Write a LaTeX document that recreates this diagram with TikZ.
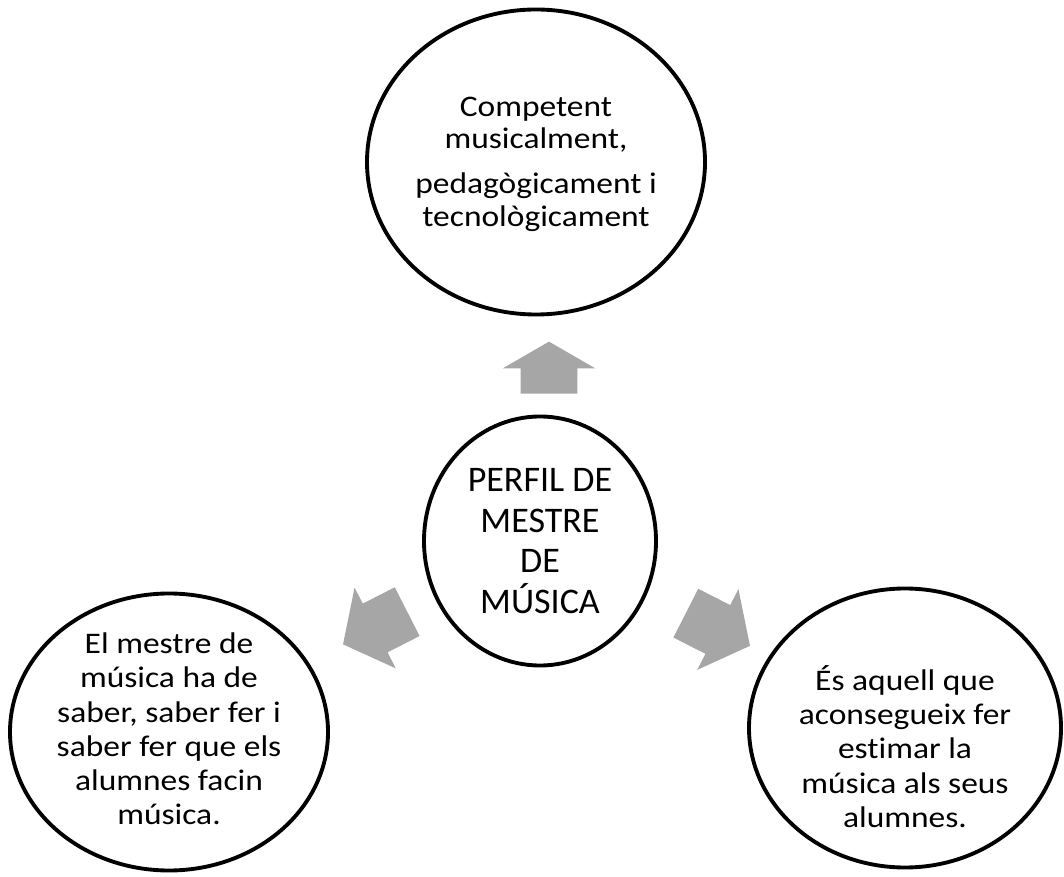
\documentclass[tikz,border=0pt]{standalone}
\usepackage{fontspec}
\setmainfont{Carlito}[Ligatures=NoCommon]
\newfontfamily\widefont{Carlito}[FakeStretch=1.12, Ligatures=NoCommon]
\usetikzlibrary{shapes.geometric,shapes.arrows}

\definecolor{arrowgray}{RGB}{166,166,166}

\begin{document}
\begin{tikzpicture}[
  ring/.style={draw=black, ellipse, line width=2.2pt, inner sep=0pt},
  ringtext/.style={align=center, inner sep=0pt, font=\widefont\fontsize{17}{19.5}\selectfont},
  hubtext/.style={align=center, inner sep=0pt, font=\fontsize{20.5}{23}\selectfont},
  blockarrow/.style={single arrow, fill=arrowgray, draw=none, inner xsep=0pt,
    anchor=tail, single arrow head extend=0.36cm}
]

  \useasboundingbox (0,0) rectangle (21.28,17.52);

  % Rings
  \node[ring, minimum width=6.76cm, minimum height=6.10cm] (top) at (10.72, 14.28) {};
  \node[ring, minimum width=4.64cm, minimum height=4.98cm] (hub) at (10.80, 6.70) {};
  \node[ring, minimum width=6.36cm, minimum height=5.54cm] (left) at (3.38, 2.88) {};
  \node[ring, minimum width=6.24cm, minimum height=5.58cm] (right) at (18.10, 2.96) {};

  % Texts inside the rings
  \node[ringtext, font=\widefont\fontsize{17}{18.5}\selectfont] (top-text) at (10.72, 14.24)
    {Competent\\musicalment,\\[7pt]pedagògicament i\\tecnològicament};
  \node[hubtext] (hub-text) at (hub) {PERFIL DE\\MESTRE\\DE\\MÚSICA};
  \node[ringtext] (left-text) at (3.38, 2.94)
    {El mestre de\\música ha de\\saber, saber fer i\\saber fer que els\\alumnes facin\\música.};
  \node[ringtext] (right-text) at (18.10, 2.59)
    {És aquell que\\aconsegueix fer\\estimar la\\música als seus\\alumnes.};

  % Block arrows out of the hub
  \node[blockarrow, minimum height=1.04cm, inner ysep=0.56cm, single arrow tip angle=120,
    rotate=90] (up-arrow) at (10.98, 9.64) {};
  \node[blockarrow, minimum height=1.44cm, inner ysep=0.54cm, single arrow tip angle=103,
    rotate=207] (left-arrow) at (8.15, 5.29) {};
  \node[blockarrow, minimum height=1.44cm, inner ysep=0.54cm, single arrow tip angle=103,
    rotate=-27] (right-arrow) at (13.71, 5.26) {};

\end{tikzpicture}
\end{document}
